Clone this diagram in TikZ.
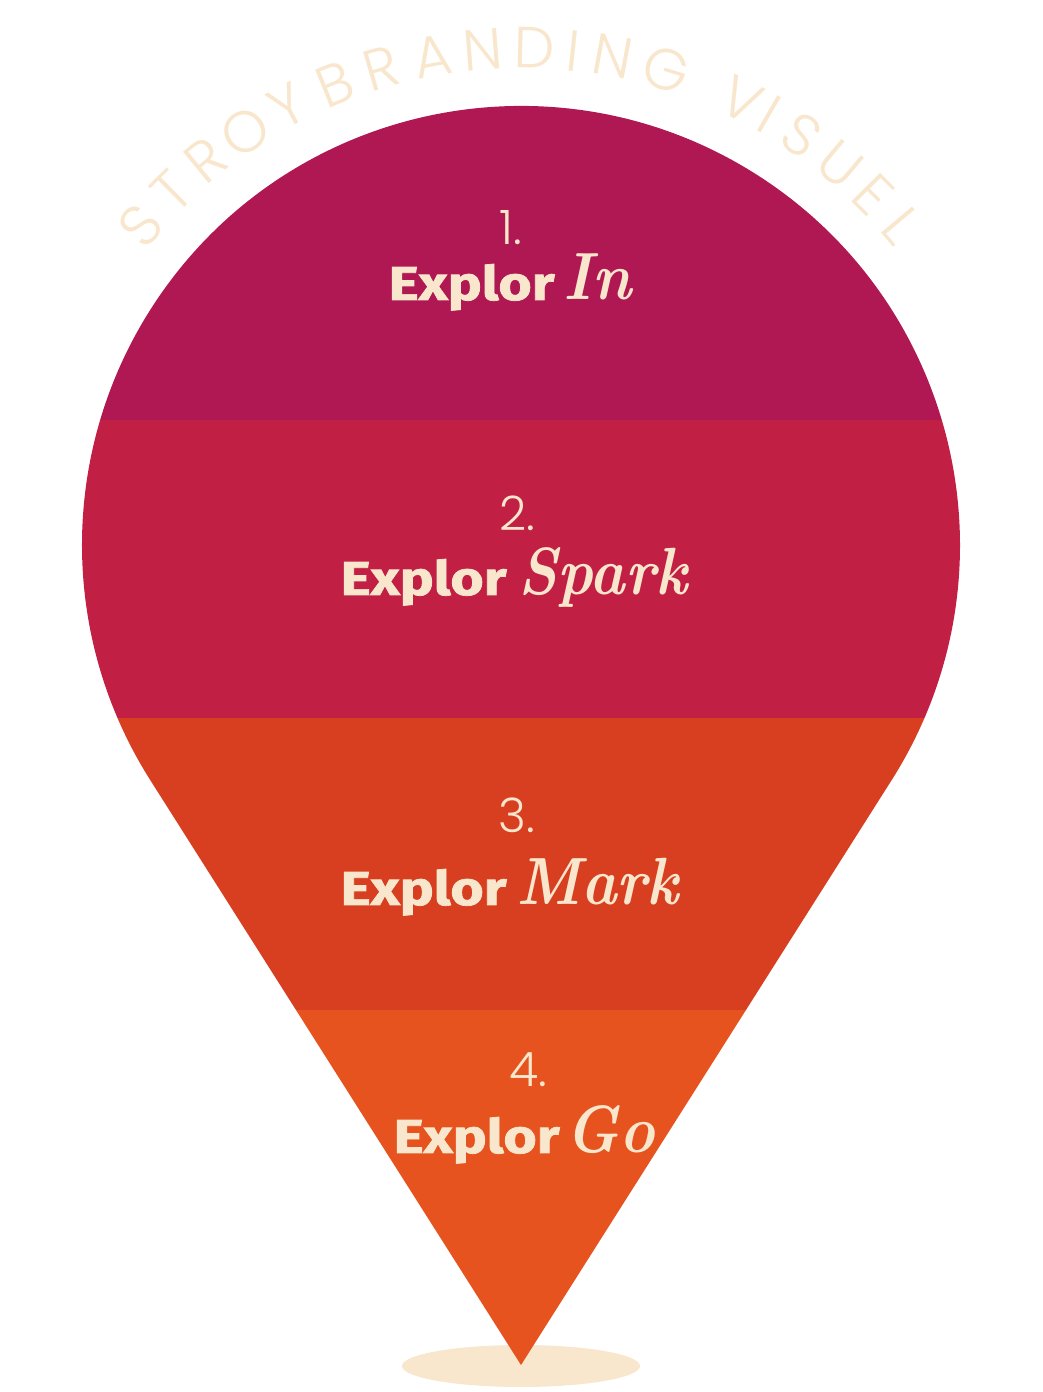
\documentclass[tikz,border=0pt]{standalone}
\usepackage{fontspec}
\usepackage{graphicx}
\newfontfamily\expfont{Fira Sans}[BoldFeatures={FakeBold=1.5}]
\newfontfamily\thinfont{Poppins}[UprightFont={* Light}]
\definecolor{bandA}{HTML}{AF1852}
\definecolor{bandB}{HTML}{C21F45}
\definecolor{bandC}{HTML}{D73F20}
\definecolor{bandD}{HTML}{E6531F}
\definecolor{cream}{HTML}{F8E7CD}
\tikzset{
  arcletter/.style={text=cream, font=\thinfont\fontsize{16.5}{16.5}\selectfont, inner sep=0pt, anchor=center},
  numlabel/.style={text=cream, font=\thinfont\fontsize{13.5}{13.5}\selectfont, inner sep=0pt, anchor=center},
  explabel/.style={text=cream, font=\expfont\bfseries\fontsize{13.5}{13.5}\selectfont, inner sep=0pt, anchor=base west},
  scrlabel/.style={text=cream, font=\bfseries\itshape\fontsize{19}{19}\selectfont, inner sep=0pt, anchor=base west}
}
\newcommand{\Expl}{\scalebox{1.2}[1]{Explor}}
\newcommand{\Scr}[1]{\scalebox{0.9}[1]{#1}}
\begin{document}
\begin{tikzpicture}
\useasboundingbox (0,0) rectangle (10.43,13.92);
\coordinate (C) at (5.21,8.47);
% shadow
\fill[cream] (5.21,0.26) ellipse [x radius=1.19cm, y radius=0.21cm];
% pin
\def\pinpath{(5.21,0.27) -- (8.916,6.118) arc[start angle=-32.4, end angle=212.4, radius=4.39cm] -- cycle}
\begin{scope}
\clip \pinpath;
\fill[bandA] (0,9.72) rectangle (10.43,13.92);
\fill[bandB] (0,6.74) rectangle (10.43,9.72);
\fill[bandC] (0,3.82) rectangle (10.43,6.74);
\fill[bandD] (0,0) rectangle (10.43,3.82);
\end{scope}
% arc text
\foreach \a/\l [count=\i] in {140.0/S,134.6/T,129.3/R,123.7/O,118.0/Y,112.0/B,106.3/R,100.3/A,94.4/N,88.5/D,84.0/I,79.4/N,73.0/G,63.7/V,60.0/I,55.6/S,50.0/U,44.8/E,40.0/L}
  \node[arcletter, rotate=\a-90] (arc\i) at ([shift={(\a:4.97)}]C) {\l};
% labels
\node[numlabel] (n1) at (5.11,11.64) {1.};
\node[explabel] (e1) at (3.88,10.92) {\Expl};
\node[scrlabel] (s1) at (5.63,10.92) {\Scr{In}};
\node[numlabel] (n2) at (5.17,8.79) {2.};
\node[explabel] (e2) at (3.40,7.97) {\Expl};
\node[scrlabel] (s2) at (5.18,7.97) {\Scr{Spark}};
\node[numlabel] (n3) at (5.17,5.77) {3.};
\node[explabel] (e3) at (3.40,4.87) {\Expl};
\node[scrlabel] (s3) at (5.16,4.87) {\Scr{Mark}};
\node[numlabel] (n4) at (5.28,3.22) {4.};
\node[explabel] (e4) at (3.93,2.39) {\Expl};
\node[scrlabel] (s4) at (5.65,2.39) {\Scr{Go}};
\end{tikzpicture}
\end{document}
